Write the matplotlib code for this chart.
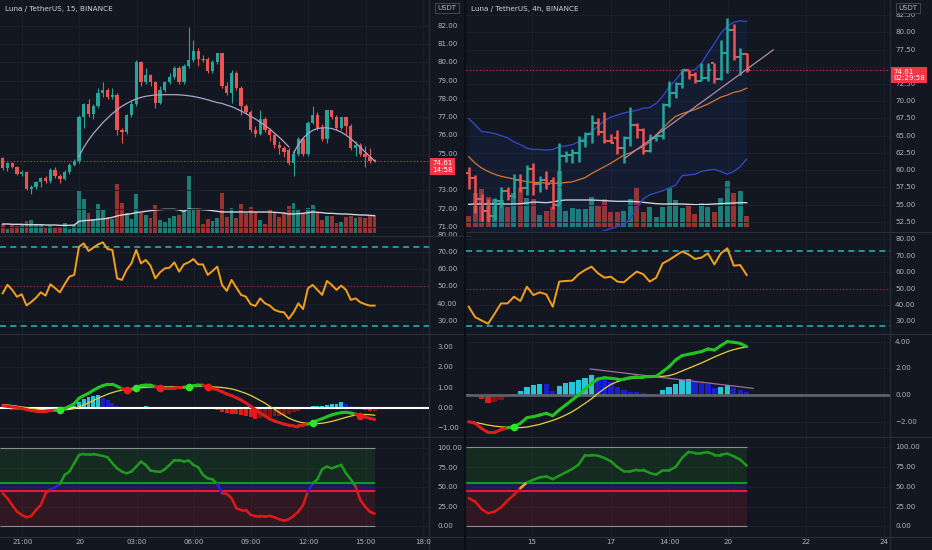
import numpy as np
import matplotlib
matplotlib.use("Agg")
import matplotlib.pyplot as plt
from matplotlib.collections import LineCollection

W, H = 932, 550
BG = "#131722"
GRID = "#1c202b"
SEP = "#2a2e39"
TXT = "#b2b5be"
UP, DN = "#26a69a", "#ef5350"
VUP, VDN = "#1f8f86", "#b03a32"

# ---------------- left chart: Luna/USDT 15m ----------------
l_open = [74.75, 74.20, 74.50, 74.30, 73.90, 74.00, 73.05, 73.20, 73.45, 73.70,
          73.50, 74.10, 73.80, 73.60, 74.00, 74.40, 74.60, 77.00, 77.70, 77.20,
          77.60, 78.30, 78.50, 78.10, 78.20, 76.30, 76.20, 77.10, 77.70, 80.00,
          78.90, 79.30, 78.90, 77.80, 78.50, 78.90, 79.20, 79.70, 78.90, 79.80,
          80.10, 80.60, 80.20, 80.20, 79.50, 80.00, 80.50, 78.70, 78.30, 79.40,
          78.60, 77.60, 77.30, 76.30, 76.10, 76.90, 76.30, 76.00, 75.50, 75.30,
          75.20, 74.50, 75.00, 75.80, 75.00, 76.70, 77.10, 76.40, 75.80, 77.40,
          77.00, 76.40, 77.00, 76.50, 75.30, 75.50, 75.00, 74.80, 74.65]
l_high = [74.80, 74.55, 74.55, 74.35, 74.10, 74.05, 73.30, 73.50, 73.75, 73.80,
          74.20, 74.30, 73.90, 74.10, 74.50, 74.70, 77.10, 77.80, 78.00, 77.70,
          78.60, 78.90, 78.60, 78.60, 78.30, 76.40, 77.20, 77.90, 80.10, 80.05,
          79.70, 79.35, 79.00, 78.70, 79.00, 79.40, 79.80, 79.80, 79.90, 81.90,
          81.20, 80.80, 80.40, 80.30, 80.10, 80.50, 80.50, 78.90, 79.60, 79.50,
          78.70, 77.70, 77.40, 76.50, 77.40, 77.00, 76.40, 76.10, 75.70, 75.40,
          75.30, 75.20, 75.90, 75.90, 76.80, 77.60, 77.30, 76.60, 77.40, 77.40,
          77.10, 77.00, 77.00, 76.60, 75.70, 75.60, 75.40, 75.30, 74.70]
l_low = [74.10, 74.05, 74.20, 73.85, 73.80, 73.00, 72.80, 73.10, 73.20, 73.40,
         73.40, 73.70, 73.40, 73.55, 73.90, 74.35, 74.50, 76.40, 77.00, 76.90,
         77.50, 78.10, 78.00, 78.00, 76.00, 75.60, 76.10, 77.00, 77.60, 78.70,
         78.80, 78.70, 77.50, 77.70, 78.40, 78.80, 79.10, 78.80, 78.80, 79.70,
         80.00, 79.80, 80.00, 79.40, 79.40, 79.90, 78.60, 78.20, 77.80, 78.50,
         77.10, 77.20, 76.20, 75.90, 76.00, 76.20, 75.70, 75.30, 75.00, 74.80,
         74.40, 73.80, 74.90, 74.90, 74.90, 76.60, 76.30, 75.70, 75.60, 76.90,
         76.30, 76.30, 76.10, 75.20, 74.90, 74.90, 74.30, 74.50, 74.55]
l_close = [74.20, 74.50, 74.30, 73.90, 74.00, 73.05, 73.20, 73.45, 73.70, 73.50,
           74.10, 73.80, 73.60, 74.00, 74.40, 74.60, 77.00, 77.70, 77.20, 77.60,
           78.30, 78.50, 78.10, 78.20, 76.30, 76.20, 77.10, 77.70, 80.00, 78.90,
           79.30, 78.90, 77.80, 78.50, 78.90, 79.20, 79.70, 78.90, 79.80, 80.10,
           80.60, 80.20, 80.10, 79.50, 80.00, 80.50, 78.70, 78.30, 79.40, 78.60,
           77.60, 77.30, 76.30, 76.10, 76.90, 76.30, 76.00, 75.50, 75.30, 75.10,
           74.50, 75.00, 75.80, 75.00, 76.70, 77.10, 76.40, 75.80, 77.40, 77.00,
           76.40, 77.00, 76.50, 75.30, 75.50, 75.00, 74.80, 74.60, 74.61]
l_volume = [27, 14, 24, 22, 25, 36, 41, 25, 25, 19, 21, 17, 19, 32, 14, 25, 126, 102, 61, 43,
            88, 72, 49, 42, 147, 92, 62, 44, 119, 61, 56, 47, 86, 39, 34, 47, 51, 55, 71, 172,
            69, 72, 28, 42, 37, 45, 122, 50, 75, 45, 88, 62, 78, 63, 40, 28, 72, 60, 50, 60,
            82, 90, 72, 60, 75, 85, 60, 40, 52, 52, 30, 35, 48, 52, 45, 48, 45, 52, 53]
l_volume_ma = [28, 28, 27, 27, 27, 26, 26, 26, 26, 25, 25, 25, 24, 24, 24, 25, 36, 38, 39, 40,
               42, 43, 45, 48, 52, 55, 57, 59, 62, 64, 66, 68, 70, 71, 72, 72, 72, 70, 66, 73,
               72, 72, 71, 70, 68, 66, 64, 64, 64, 64, 64, 64, 64, 64, 64, 64, 64, 63, 62, 61,
               58, 58, 59, 60, 62, 64, 63, 62, 60, 60, 59, 58, 58, 57, 56, 55, 55, 54, 53]
l_arc1_start = 16
l_arc1 = [74.85, 75.35, 75.75, 76.10, 76.40, 76.70, 76.95, 77.20, 77.40, 77.60,
          77.75, 77.88, 78.00, 78.08, 78.14, 78.18, 78.21, 78.22, 78.23, 78.23,
          78.23, 78.22, 78.20, 78.17, 78.13, 78.08, 78.02, 77.95, 77.87, 77.80,
          77.75, 77.66, 77.58, 77.46, 77.34, 77.20, 77.05, 76.90, 76.73, 76.55,
          76.35, 76.13, 75.90, 75.65, 75.38]
l_arc2_start = 61
l_arc2 = [75.05, 75.50, 75.85, 76.10, 76.28, 76.38, 76.42, 76.42, 76.38, 76.30,
          76.18, 76.02, 75.82, 75.60, 75.35, 75.10, 74.85, 74.62]
l_rsi = [46.0, 51.0, 48.0, 44.0, 45.5, 39.0, 41.0, 43.5, 46.6, 44.7, 51.3, 49.0, 46.6, 51.3,
         55.7, 56.7, 73.0, 75.0, 70.6, 72.5, 74.4, 75.6, 71.7, 71.2, 54.7, 53.8, 59.6, 63.4,
         71.2, 63.4, 65.4, 62.1, 54.7, 58.2, 60.5, 60.9, 64.0, 58.6, 62.8, 64.0, 65.9, 62.8,
         62.8, 56.7, 59.0, 61.5, 50.9, 47.4, 53.8, 49.4, 45.1, 44.1, 39.7, 38.7, 43.1, 40.2,
         38.9, 36.4, 35.4, 35.0, 31.2, 35.0, 40.2, 36.9, 48.9, 50.9, 48.0, 45.1, 53.2, 50.9,
         48.0, 50.5, 48.0, 42.2, 43.1, 40.8, 39.7, 38.9, 38.9]
l_macd = [0.11, 0.08, 0.05, 0.02, -0.02, -0.08, -0.13, -0.15, -0.15, -0.15, -0.13, -0.11,
          -0.10, -0.02, 0.08, 0.21, 0.48, 0.61, 0.72, 0.87, 1.00, 1.10, 1.17, 1.17, 1.07,
          0.95, 0.89, 0.92, 1.00, 1.10, 1.13, 1.12, 1.05, 0.99, 0.99, 0.99, 0.99, 1.00, 1.02,
          1.05, 1.10, 1.13, 1.12, 1.02, 0.95, 0.90, 0.80, 0.69, 0.61, 0.51, 0.39, 0.25, 0.08,
          -0.08, -0.25, -0.39, -0.54, -0.64, -0.72, -0.79, -0.85, -0.87, -0.87, -0.85, -0.79,
          -0.72, -0.61, -0.53, -0.43, -0.34, -0.28, -0.23, -0.21, -0.25, -0.30, -0.38, -0.44,
          -0.51, -0.56]
l_signal = [0.17, 0.15, 0.12, 0.09, 0.05, 0.02, -0.02, -0.05, -0.07, -0.08, -0.09, -0.10,
            -0.11, -0.09, -0.07, -0.03, 0.05, 0.15, 0.25, 0.36, 0.48, 0.58, 0.68, 0.76, 0.83,
            0.88, 0.92, 0.95, 0.98, 1.00, 1.02, 1.03, 1.04, 1.04, 1.04, 1.04, 1.04, 1.04, 1.04,
            1.04, 1.05, 1.06, 1.07, 1.07, 1.04, 1.03, 1.01, 0.98, 0.94, 0.88, 0.80, 0.72, 0.62,
            0.50, 0.37, 0.24, 0.08, -0.06, -0.22, -0.36, -0.50, -0.60, -0.68, -0.73, -0.76,
            -0.77, -0.77, -0.75, -0.71, -0.66, -0.60, -0.53, -0.46, -0.40, -0.35, -0.33, -0.32,
            -0.33, -0.36]
l_hist = [-0.05, -0.06, -0.08, -0.10, -0.12, -0.14, -0.15, -0.14, -0.13, -0.10, -0.08, -0.06,
          -0.03, 0.03, 0.08, 0.12, 0.30, 0.45, 0.55, 0.60, 0.64, 0.50, 0.38, 0.25, 0.10, -0.02,
          -0.05, -0.03, 0.04, 0.06, 0.08, 0.05, 0.00, -0.01, 0.00, 0.01, 0.00, -0.01, 0.01,
          0.03, 0.06, 0.03, 0.01, -0.02, -0.05, -0.10, -0.18, -0.25, -0.28, -0.30, -0.35, -0.38,
          -0.45, -0.55, -0.50, -0.45, -0.42, -0.40, -0.38, -0.33, -0.30, -0.22, -0.15, -0.06,
          0.00, 0.08, 0.10, 0.12, 0.16, 0.20, 0.22, 0.30, 0.20, 0.12, 0.05, -0.02, -0.12,
          -0.15, -0.15]
l_osc = [42.0, 35.8, 27.0, 18.7, 14.5, 11.5, 13.2, 20.9, 27.2, 42.1, 47.3, 49.8, 54.0, 65.6,
         69.8, 80.5, 91.0, 92.4, 92.4, 92.4, 91.0, 89.8, 88.1, 80.5, 74.0, 69.8, 67.7, 69.8,
         76.2, 82.6, 78.3, 71.1, 70.2, 69.4, 72.8, 78.3, 84.7, 84.7, 82.6, 83.9, 78.3, 75.4,
         65.6, 61.3, 60.0, 54.0, 42.1, 41.3, 35.8, 23.0, 20.9, 20.9, 14.5, 13.2, 13.2, 12.3,
         13.2, 11.5, 8.9, 7.2, 8.9, 13.2, 18.7, 27.2, 44.3, 54.9, 60.0, 72.8, 76.2, 74.0, 76.2,
         78.3, 67.7, 60.0, 50.7, 33.6, 25.1, 18.7, 16.0]
l_xticks = ["21:00", "20", "03:00", "06:00", "09:00", "12:00", "15:00", "18:0"]

# ---------------- right chart: Luna/USDT 4h ----------------
r_open = [59.6, 58.9, 55.8, 54.0, 53.3, 55.5, 57.0, 56.2, 58.6, 57.4, 60.2, 58.0, 58.6, 58.4,
          55.0, 62.0, 62.2, 62.5, 64.2, 65.3, 66.8, 65.6, 64.3, 64.6, 63.2, 64.6, 66.5, 65.8,
          62.8, 64.7, 65.0, 69.5, 71.2, 72.5, 74.5, 73.8, 73.0, 73.4, 75.5, 73.2, 77.0, 80.4,
          76.5, 76.8]
r_high = [60.4, 59.3, 56.5, 55.8, 55.9, 57.5, 57.6, 59.4, 59.5, 60.7, 61.0, 59.2, 59.8, 59.0,
          64.0, 62.8, 63.0, 64.9, 65.6, 68.0, 67.5, 68.5, 65.3, 65.8, 65.0, 69.2, 66.8, 66.1,
          65.3, 65.3, 69.8, 72.9, 72.8, 74.6, 74.6, 74.3, 75.5, 75.6, 75.6, 78.9, 82.1, 81.3,
          77.7, 77.0]
r_low = [57.2, 53.8, 52.6, 52.4, 52.8, 54.6, 55.6, 56.0, 56.8, 56.4, 56.4, 56.8, 57.2, 54.4,
         54.8, 61.2, 61.0, 61.2, 63.4, 63.9, 65.1, 63.9, 63.9, 62.4, 61.0, 63.5, 64.6, 62.3,
         62.6, 64.2, 64.5, 69.2, 70.5, 72.0, 73.2, 72.6, 72.9, 72.9, 72.7, 73.1, 74.1, 76.0,
         73.8, 74.3]
r_close = [58.9, 55.8, 54.0, 53.3, 55.5, 57.0, 56.2, 58.6, 57.4, 60.2, 58.0, 58.6, 58.0, 55.0,
           62.0, 62.2, 62.5, 64.2, 65.3, 66.8, 65.6, 64.3, 64.0, 63.2, 64.6, 66.5, 65.8, 62.8,
           64.7, 65.0, 69.5, 71.2, 72.5, 74.5, 73.8, 73.0, 73.4, 74.5, 73.2, 77.0, 80.4, 76.5,
           76.8, 74.61]
r_volume = [34, 104, 114, 92, 84, 82, 60, 102, 120, 87, 84, 37, 50, 62, 170, 50, 57, 54, 54, 90,
            64, 86, 46, 46, 50, 84, 122, 46, 60, 32, 62, 120, 82, 57, 70, 40, 74, 62, 47, 87,
            139, 104, 109, 34]
r_volume_ma = [69, 70, 70, 70, 70, 70, 70, 70, 71, 73, 76, 75, 74, 76, 80, 82, 82, 82, 82, 82,
               81, 80, 79, 78, 78, 78, 77, 75, 73, 71, 70, 70, 70, 70, 69, 68, 68, 69, 70, 71,
               72, 73, 74, 74]
r_bb_upper = [67.5, 66.6, 65.6, 65.5, 65.3, 65.0, 64.7, 64.1, 63.7, 63.2, 63.0, 63.0, 62.9, 63.0,
              63.4, 63.5, 63.7, 64.1, 64.7, 65.6, 66.4, 67.2, 67.7, 68.0, 68.3, 68.5, 68.7, 69.0,
              69.1, 69.7, 70.7, 72.1, 73.1, 74.3, 74.4, 74.6, 75.5, 77.0, 78.4, 79.9, 80.9, 81.5,
              81.7, 81.6]
r_bb_basis = [61.95, 61.0, 60.3, 59.8, 59.4, 59.1, 58.9, 58.7, 58.5, 58.3, 58.2, 58.2, 58.1,
              58.1, 58.1, 58.2, 58.3, 58.6, 58.9, 59.5, 60.0, 60.5, 61.0, 61.6, 62.2, 62.5,
              63.0, 63.4, 64.1, 65.1, 66.1, 67.0, 67.8, 68.2, 68.5, 68.8, 69.2, 69.6, 70.1,
              70.6, 70.9, 71.3, 71.5, 71.9]
r_bb_lower = [49.0, 48.5, 48.0, 47.8, 47.6, 47.5, 47.5, 47.6, 47.8, 48.0, 48.2, 48.4, 48.6, 48.8,
              49.0, 49.3, 49.6, 50.0, 50.3, 50.6, 50.9, 51.2, 51.5, 51.8, 52.0, 53.0, 54.4, 55.8,
              56.4, 56.7, 57.0, 57.4, 57.8, 59.2, 59.3, 59.4, 59.8, 60.0, 60.1, 59.8, 59.4, 59.8,
              60.5, 61.6]
r_trend = ([24.2, 47.1], [61.76, 77.46])
r_rsi = [38.9, 32.5, 30.5, 28.5, 34.6, 40.9, 40.9, 45.0, 42.4, 51.1, 46.0, 47.7, 46.4, 38.9,
         54.2, 54.6, 54.8, 58.7, 61.3, 63.3, 59.3, 56.6, 57.2, 54.2, 53.8, 57.2, 60.3, 58.7,
         54.2, 56.6, 65.3, 67.4, 70.0, 72.5, 70.8, 68.0, 68.8, 71.4, 64.7, 71.4, 74.5, 63.9,
         64.3, 58.2]
r_macd = [-2.00, -2.12, -2.50, -2.80, -2.80, -2.60, -2.45, -2.37, -2.12, -1.70, -1.62, -1.50,
          -1.37, -1.55, -1.12, -0.75, -0.37, 0.00, 0.45, 0.87, 1.20, 1.30, 1.25, 1.20, 1.20,
          1.30, 1.37, 1.37, 1.38, 1.40, 1.75, 2.12, 2.62, 2.95, 3.05, 3.15, 3.25, 3.45, 3.37,
          3.70, 4.00, 3.95, 3.87, 3.62]
r_signal = [-1.98, -2.05, -2.15, -2.25, -2.33, -2.38, -2.42, -2.44, -2.44, -2.40, -2.30, -2.20,
            -2.05, -1.90, -1.72, -1.50, -1.25, -0.95, -0.62, -0.28, 0.12, 0.48, 0.80, 1.00,
            1.15, 1.22, 1.28, 1.32, 1.35, 1.37, 1.40, 1.45, 1.60, 1.80, 2.00, 2.20, 2.40, 2.62,
            2.85, 3.05, 3.25, 3.40, 3.52, 3.60]
r_hist = [0.05, -0.15, -0.30, -0.60, -0.50, -0.35, -0.15, 0.10, 0.30, 0.62, 0.75, 0.82, 0.80,
          0.30, 0.70, 0.87, 0.95, 1.12, 1.30, 1.50, 1.37, 1.20, 1.00, 0.62, 0.37, 0.25, 0.20,
          0.12, 0.05, 0.00, 0.37, 0.62, 0.82, 1.12, 1.17, 1.00, 0.87, 0.82, 0.50, 0.62, 0.75,
          0.55, 0.37, 0.20]
r_macd_trend = ([18.8, 44.0], [1.95, 0.50])
r_osc = [35.6, 31.3, 21.6, 16.5, 18.6, 24.1, 32.6, 39.8, 48.3, 55.5, 58.9, 61.9, 63.1, 59.7,
         64.0, 68.2, 72.5, 78.0, 90.3, 90.3, 89.4, 86.4, 82.2, 75.0, 69.5, 69.5, 71.6, 71.6,
         67.4, 65.3, 70.8, 70.8, 75.0, 86.4, 94.1, 92.8, 92.8, 93.6, 90.7, 90.7, 91.9, 88.6,
         84.3, 76.7]
r_xticks = ["15", "17", "14:00", "20", "22", "24"]
last_price = 74.61

fig = plt.figure(figsize=(W / 100, H / 100), dpi=100)
fig.patch.set_facecolor(BG)


def pane(x0, x1, y0, y1, xlim, ylim, bg=True, z=1):
    ax = fig.add_axes([x0 / W, 1 - y1 / H, (x1 - x0) / W, (y1 - y0) / H])
    ax.set_facecolor(BG if bg else "none")
    ax.set_xlim(*xlim)
    ax.set_ylim(*ylim)
    ax.set_xticks([])
    ax.set_yticks([])
    ax.set_zorder(z)
    for s in ax.spines.values():
        s.set_visible(False)
    return ax


def ylabels(ax, vals, off_px, skip=()):
    w = ax.get_position().width * W
    lo, hi = ax.get_ylim()
    for v in vals:
        if lo < v < hi:
            ax.axhline(v, color=GRID, lw=0.7, zorder=0)
        if v in skip:
            continue
        ax.text(1 + off_px / w, v, f"{v:.2f}".replace("-", "\u2212"),
                transform=ax.get_yaxis_transform(), ha="left", va="center",
                fontsize=5.1, color=TXT, clip_on=False)


def vgrid(ax, ticks):
    for t in ticks:
        ax.axvline(t, color=GRID, lw=0.7, zorder=0)


def colored_line(ax, x, y, colors, lw, z=3):
    pts = np.column_stack([x, y])
    segs = np.stack([pts[:-1], pts[1:]], axis=1)
    ax.add_collection(LineCollection(segs, colors=colors, linewidths=lw,
                                     capstyle="round", joinstyle="round", zorder=z))


def hist_colors(h):
    out = []
    for i, v in enumerate(h):
        prev = h[i - 1] if i > 0 else v
        if v >= 0:
            out.append("#26c6da" if v >= prev else "#1c1cd0")
        else:
            out.append("#e31b1b" if v < prev else "#8a1414")
    return out


def osc_colors(v, mid):
    out = []
    for a, b in zip(v[:-1], v[1:]):
        m = (a + b) / 2
        out.append("#1f9a1f" if m > 55 else ("#e01818" if m < 45 else mid))
    return out


def draw_chart(cfg):
    n = len(cfg["close"])
    idx = np.arange(n)
    o, hgh, low, c = (np.array(cfg[k]) for k in ("open", "high", "low", "close"))
    up = c >= o
    x0, x1 = cfg["x0"], cfg["x1"]
    xl = cfg["xlim"]
    ticks = cfg["tick_pos"]

    # main price pane with volume underneath
    vax = pane(x0, x1, 0, cfg["main_bottom"], xl, cfg["vol_lim"], bg=True, z=1)
    vgrid(vax, ticks)
    vax.bar(idx, cfg["volume"], width=0.78, color=np.where(up, VUP, VDN), alpha=0.85, zorder=2)
    vax.plot(idx, cfg["volume_ma"], color="#d1d4dc", lw=1.0, zorder=3)
    ax = pane(x0, x1, 0, cfg["main_bottom"], xl, cfg["price_lim"], bg=False, z=2)
    ylabels(ax, cfg["price_ticks"], cfg["lab_off"], skip=cfg.get("skip", ()))
    cols = np.where(up, UP, DN)
    if cfg["style"] == "candle":
        ax.vlines(idx, low, hgh, colors=cols, lw=0.8, zorder=4)
        body = np.maximum(np.abs(c - o), 0.03)
        ax.bar(idx, body, bottom=np.minimum(o, c), width=0.7, color=cols, zorder=5)
        for start, arc in cfg["arcs"]:
            ax.plot(np.arange(start, start + len(arc)), arc, color="#a9a4cf", lw=0.9, zorder=6)
    else:
        ub, bb, lb = (np.array(cfg[k]) for k in ("bb_upper", "bb_basis", "bb_lower"))
        ax.fill_between(idx, lb, ub, color="#2962ff", alpha=0.07, lw=0, zorder=1)
        ax.plot(idx, ub, color="#2f47c6", lw=1.0, zorder=3)
        ax.plot(idx, lb, color="#2f47c6", lw=1.0, zorder=3)
        ax.plot(idx, bb, color="#d6772a", lw=0.9, zorder=3)
        ax.vlines(idx, low, hgh, colors=cols, lw=1.8, zorder=4)
        ax.hlines(o, idx - 0.5, idx, colors=cols, lw=1.5, zorder=4)
        ax.hlines(c, idx, idx + 0.5, colors=cols, lw=1.5, zorder=4)
        tx, ty = cfg["trend"]
        ax.plot(tx, ty, color="#b48aa9", lw=0.9, zorder=5)
    ax.axhline(last_price, color="#f23645", lw=0.8, ls=(0, (1, 2)), zorder=3)

    # RSI
    rax = pane(x0, x1, cfg["main_bottom"] + 1, 333, xl, cfg["rsi_lim"])
    vgrid(rax, ticks)
    ylabels(rax, [80, 70, 60, 50, 40, 30], cfg["lab_off"])
    rax.axhline(73, color="#2aa9b9", lw=1.2, ls=(0, (3.6, 2.6)), zorder=2)
    rax.axhline(27, color="#2aa9b9", lw=1.2, ls=(0, (3.6, 2.6)), zorder=2)
    rax.axhline(50, color="#a3283a", lw=0.8, ls=(0, (1, 2)), zorder=2)
    rax.plot(idx, cfg["rsi"], color="#f5a01a", lw=1.4, zorder=3)

    # MACD
    max_ = pane(x0, x1, 334, 436, xl, cfg["macd_lim"])
    vgrid(max_, ticks)
    ylabels(max_, cfg["macd_ticks"], cfg["lab_off"])
    hist = cfg["hist"]
    max_.bar(idx, hist, width=0.82, color=hist_colors(hist), zorder=2)
    max_.axhline(0, color=cfg["zero_color"], lw=cfg["zero_lw"], zorder=3)
    m, s = np.array(cfg["macd"]), np.array(cfg["signal"])
    state = m >= s
    seg_cols = ["#22c422" if st else "#e01d1d" for st in state[1:]]
    max_.plot(idx, s, color="#e3d23c", lw=0.9, zorder=4)
    colored_line(max_, idx, m, seg_cols, 2.2, z=5)
    for i in range(1, n):
        if state[i] != state[i - 1]:
            max_.plot(i, m[i], "o", ms=4.5, color="#2ee62e" if state[i] else "#f01c1c", zorder=6)
    if "macd_trend" in cfg:
        tx, ty = cfg["macd_trend"]
        max_.plot(tx, ty, color="#a56aa9", lw=0.9, zorder=4)

    # oscillator
    oax = pane(x0, x1, 437, 536, xl, cfg["osc_lim"])
    vgrid(oax, ticks)
    ylabels(oax, [100, 75, 50, 25, 0], cfg["lab_off"])
    xs = [xl[0], n - 1]
    oax.fill_between(xs, 55, 100, color="#1b5e20", alpha=0.28, lw=0, zorder=1)
    oax.fill_between(xs, 45, 55, color="#2a1f8f", alpha=0.45, lw=0, zorder=1)
    oax.fill_between(xs, 0, 45, color="#7a1c24", alpha=0.28, lw=0, zorder=1)
    oax.hlines([100, 0], *xs, color="#8a8d96", lw=0.8, zorder=2)
    oax.hlines(55, *xs, color="#159a1e", lw=1.5, zorder=2)
    oax.hlines(45, *xs, color="#e5173a", lw=1.5, zorder=2)
    colored_line(oax, idx, cfg["osc"], osc_colors(cfg["osc"], cfg["osc_mid"]), 1.8, z=3)

    # time axis
    for t, lab in zip(ticks, cfg["tick_labels"]):
        xp = x0 + (t - xl[0]) / (xl[1] - xl[0]) * (x1 - x0)
        fig.text(xp / W, 1 - 542 / H, lab, ha="center", va="center", fontsize=5.1, color=TXT)

    # separators and axis frame
    for yy in (cfg["main_bottom"] + 0.5, 333.5, 436.5, 536.5):
        fig.add_artist(plt.Line2D([x0 / W, (x1 + 42) / W], [1 - yy / H] * 2, color=SEP, lw=0.8))
    fig.add_artist(plt.Line2D([x1 / W] * 2, [1 - 550 / H, 1], color=SEP, lw=0.8))

    # header / usdt / price tag
    fig.text((x0 + 5) / W, 1 - 9 / H, cfg["title"], ha="left", va="center",
             fontsize=5.2, color="#d1d4dc")
    fig.text((x1 + 18) / W, 1 - 8 / H, "USDT", ha="center", va="center", fontsize=5.0,
             color=TXT, bbox=dict(boxstyle="square,pad=0.3", fc=BG, ec="#434651", lw=0.7))
    y_tag = ax.transData.transform((0, last_price))[1]
    fig.text((x1 + 3) / W, y_tag / fig.dpi / (H / 100) - 0.010, f"{last_price:.2f}\n{cfg['countdown']}",
             ha="left", va="center", fontsize=5.1, color="white", linespacing=1.05, zorder=10,
             bbox=dict(boxstyle="square,pad=0.3", fc="#f23645", ec="none"))


left = dict(
    open=l_open, high=l_high, low=l_low, close=l_close, volume=l_volume, volume_ma=l_volume_ma,
    style="candle", arcs=[(l_arc1_start, l_arc1), (l_arc2_start, l_arc2)],
    x0=0, x1=429, xlim=(-0.56, 89.4), main_bottom=236, lab_off=8,
    tick_pos=[4.1 + 12 * k for k in range(8)], tick_labels=l_xticks,
    price_lim=(70.51, 83.40), vol_lim=(-8, 700), price_ticks=list(range(71, 83)), skip=(74,),
    rsi=l_rsi, rsi_lim=(23.0, 78.7),
    macd=l_macd, signal=l_signal, hist=l_hist, macd_lim=(-1.38, 3.645), macd_ticks=[3, 2, 1, 0, -1],
    zero_color="white", zero_lw=1.5,
    osc=l_osc, osc_lim=(-12.4, 114.0), osc_mid="#2424e0",
    title="Luna / TetherUS, 15, BINANCE", countdown="14:58",
)
right = dict(
    open=r_open, high=r_high, low=r_low, close=r_close, volume=r_volume, volume_ma=r_volume_ma,
    style="bar", bb_upper=r_bb_upper, bb_basis=r_bb_basis, bb_lower=r_bb_lower, trend=r_trend,
    x0=466, x1=890, xlim=(-0.42, 65.17), main_bottom=231, lab_off=5,
    tick_pos=[9.8, 22.0, 31.0, 40.1, 52.2, 64.2], tick_labels=r_xticks,
    price_lim=(51.15, 84.72), vol_lim=(-11, 682),
    price_ticks=[52.5, 55, 57.5, 60, 62.5, 65, 67.5, 70, 72.5, 75, 77.5, 80, 82.5], skip=(75,),
    rsi=r_rsi, rsi_lim=(22.87, 84.45),
    macd=r_macd, signal=r_signal, hist=r_hist, macd_lim=(-3.07, 4.57), macd_ticks=[4, 2, 0, -2],
    macd_trend=r_macd_trend, zero_color="#5d606b", zero_lw=2.0,
    osc=r_osc, osc_lim=(-12.3, 113.0), osc_mid="#f5a623",
    title="Luna / TetherUS, 4h, BINANCE", countdown="02:29:58",
)

draw_chart(left)
draw_chart(right)
fig.add_artist(plt.Line2D([465 / W] * 2, [0, 1], color="#0c0e15", lw=1.5))

fig.savefig("out.png", dpi=100, facecolor=BG)
